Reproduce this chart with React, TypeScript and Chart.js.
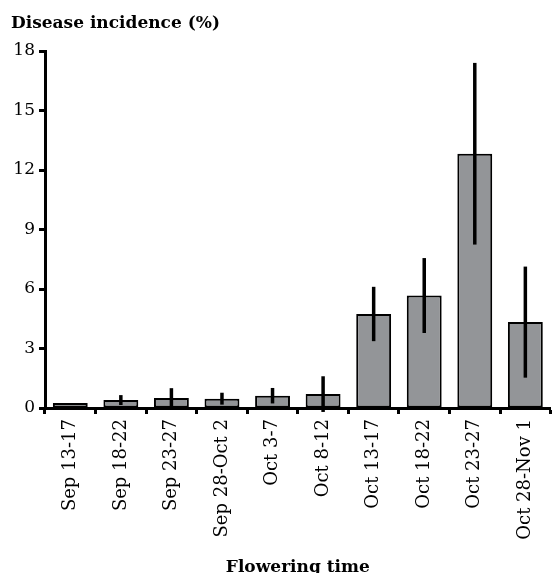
import React, { useEffect, useRef } from "react";
import { Chart, registerables } from "chart.js";

Chart.register(...registerables);

const categories = [
  "Sep 13-17",
  "Sep 18-22",
  "Sep 23-27",
  "Sep 28-Oct 2",
  "Oct 3-7",
  "Oct 8-12",
  "Oct 13-17",
  "Oct 18-22",
  "Oct 23-27",
  "Oct 28-Nov 1",
];
const incidence = [0.25, 0.4, 0.5, 0.47, 0.62, 0.7, 4.74, 5.67, 12.82, 4.33];
const errors = [0, 0.25, 0.5, 0.3, 0.39, 0.9, 1.37, 1.89, 4.58, 2.8];
const yTicks = [0, 3, 6, 9, 12, 15, 18];

const errorBarPlugin = {
  id: "errorBars",
  afterDatasetsDraw(chart: any) {
    const meta = chart.getDatasetMeta(0);
    const y = chart.scales.y;
    const ctx = chart.ctx;
    ctx.save();
    ctx.strokeStyle = "#000";
    ctx.lineWidth = 3.5;
    ctx.lineCap = "butt";
    meta.data.forEach((bar: any, i: number) => {
      const e = errors[i];
      if (!e) return;
      const v = incidence[i];
      ctx.beginPath();
      ctx.moveTo(bar.x, y.getPixelForValue(v + e));
      ctx.lineTo(bar.x, y.getPixelForValue(v - e));
      ctx.stroke();
    });
    ctx.restore();
  },
};

export default function App() {
  const ref = useRef<HTMLCanvasElement | null>(null);
  useEffect(() => {
    if (!ref.current) return;
    const font = "'DejaVu Serif', serif";
    const chart = new Chart(ref.current, {
      type: "bar",
      data: {
        labels: categories,
        datasets: [
          {
            data: incidence,
            backgroundColor: "#939598",
            borderColor: "#000",
            borderWidth: 2,
            borderSkipped: false,
            categoryPercentage: 1,
            barPercentage: 0.69,
          },
        ],
      },
      options: {
        animation: false,
        responsive: true,
        maintainAspectRatio: false,
        layout: { padding: { left: 11, right: 1, top: 0, bottom: 0 } },
        plugins: {
          legend: { display: false },
          tooltip: { enabled: false },
          title: {
            display: true,
            text: "Disease incidence (%)",
            align: "start",
            color: "#000",
            font: { family: font, size: 17, weight: "bold", lineHeight: 1.2 },
            padding: { top: 13.4, bottom: 17.2 },
          },
        },
        scales: {
          x: {
            afterFit(scale: any) {
              scale.height = 165;
            },
            grid: {
              display: true,
              drawOnChartArea: false,
              offset: true,
              tickLength: 6,
              tickWidth: 3,
              tickColor: "#000",
            },
            border: { display: true, color: "#000", width: 3 },
            ticks: {
              color: "#000",
              font: { family: font, size: 18 },
              minRotation: 90,
              maxRotation: 90,
              padding: 5,
              autoSkip: false,
            },
            title: {
              display: true,
              text: "Flowering time",
              color: "#000",
              font: { family: font, size: 17, weight: "bold", lineHeight: 0.6 },
              padding: { top: 0, bottom: 0 },
            },
          },
          y: {
            min: 0,
            max: 18,
            afterFit(scale: any) {
              scale.width = 34;
            },
            afterBuildTicks(scale: any) {
              scale.ticks = yTicks.map((v) => ({ value: v }));
            },
            grid: {
              display: true,
              drawOnChartArea: false,
              tickLength: 6,
              tickWidth: 3,
              tickColor: "#000",
            },
            border: { display: true, color: "#000", width: 3 },
            ticks: {
              color: "#000",
              font: { family: font, size: 17 },
              padding: 4,
            },
          },
        },
      },
      plugins: [errorBarPlugin],
    });
    return () => chart.destroy();
  }, []);
  return (
    <div style={{ position: "fixed", left: 0, top: 0, width: 552, height: 573 }}>
      <canvas ref={ref} />
    </div>
  );
}
